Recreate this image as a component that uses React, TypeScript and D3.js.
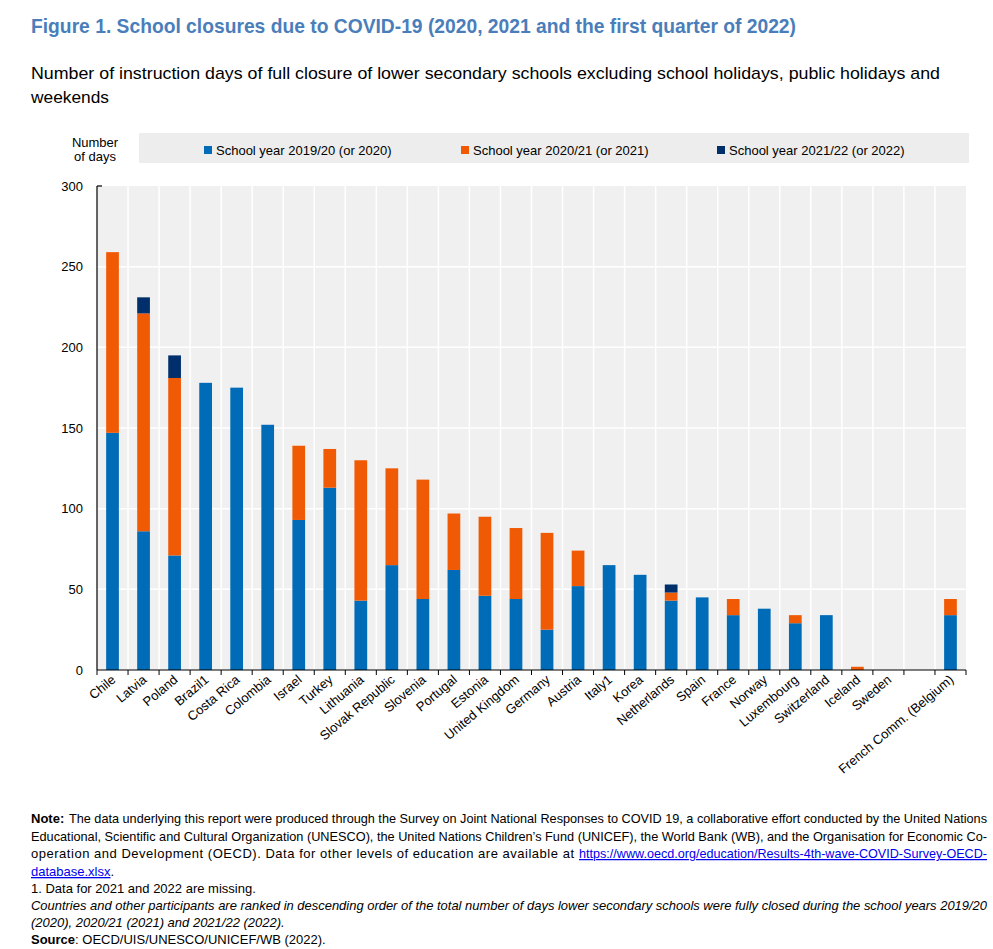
import React from "react";
import * as d3 from "d3";

const W = 993;
const H = 949;

const categories = [
  "Chile", "Latvia", "Poland", "Brazil1", "Costa Rica", "Colombia", "Israel", "Turkey",
  "Lithuania", "Slovak Republic", "Slovenia", "Portugal", "Estonia", "United Kingdom",
  "Germany", "Austria", "Italy1", "Korea", "Netherlands", "Spain", "France", "Norway",
  "Luxembourg", "Switzerland", "Iceland", "Sweden", "", "French Comm. (Belgium)",
];
const days2020 = [147, 86, 71, 178, 175, 152, 93, 113, 43, 65, 44, 62, 46, 44, 25, 52, 65, 59, 43, 45, 34, 38, 29, 34, 0, 0, 0, 34];
const days2021 = [112, 135, 110, 0, 0, 0, 46, 24, 87, 60, 74, 35, 49, 44, 60, 22, 0, 0, 5, 0, 10, 0, 5, 0, 2, 0, 0, 10];
const days2022 = [0, 10, 14, 0, 0, 0, 0, 0, 0, 0, 0, 0, 0, 0, 0, 0, 0, 0, 5, 0, 0, 0, 0, 0, 0, 0, 0, 0];

const seriesKeys = ["y2020", "y2021", "y2022"];
const seriesLabels = ["School year 2019/20 (or 2020)", "School year 2020/21 (or 2021)", "School year 2021/22 (or 2022)"];
const seriesColors = ["#006BB6", "#F15A05", "#002F6C"];
const yTicks = [0, 50, 100, 150, 200, 250, 300];

const plot = { left: 97, right: 966, top: 186, bottom: 670 };
const sans = "'Liberation Sans', Arial, sans-serif";
const narrow = "'Liberation Sans Narrow', 'Arial Narrow', 'Liberation Sans', sans-serif";

export default function App() {
  const rows = categories.map((c, i) => ({
    name: c,
    y2020: days2020[i],
    y2021: days2021[i],
    y2022: days2022[i],
  }));

  const x = d3.scaleBand().domain(categories).range([plot.left, plot.right]).padding(0);
  const y = d3.scaleLinear().domain([0, 300]).range([plot.bottom, plot.top]);
  const stacked = d3.stack().keys(seriesKeys)(rows as any);
  const barW = x.bandwidth() * 0.41;

  const boundaries = d3.range(categories.length + 1).map((k) => plot.left + k * x.step());

  return (
    <svg width={W} height={H} style={{ position: "absolute", left: 0, top: 0 }}>
      {/* heading */}
      <text x={31} y={33} fontFamily={narrow} fontWeight="bold" fontSize={21} fill="#4A7EBB"
        textLength={765} lengthAdjust="spacingAndGlyphs">
        Figure 1. School closures due to COVID-19 (2020, 2021 and the first quarter of 2022)
      </text>
      <text x={31} y={79} fontFamily={narrow} fontSize={17} fill="#000"
        textLength={909} lengthAdjust="spacingAndGlyphs">
        Number of instruction days of full closure of lower secondary schools excluding school holidays, public holidays and
      </text>
      <text x={31} y={103} fontFamily={narrow} fontSize={17} fill="#000"
        textLength={78} lengthAdjust="spacingAndGlyphs">
        weekends
      </text>

      {/* axis title + legend */}
      <text x={95} y={147} textAnchor="middle" fontFamily={sans} fontSize={13}>Number</text>
      <text x={95} y={161} textAnchor="middle" fontFamily={sans} fontSize={13}>of days</text>
      <rect x={139} y={133} width={830} height={30} fill="#EDEDED" />
      {seriesLabels.map((label, i) => {
        const lx = [204, 461, 717][i];
        return (
          <g key={label}>
            <rect x={lx} y={146} width={8} height={8} fill={seriesColors[i]} />
            <text x={lx + 12} y={155} fontFamily={sans} fontSize={13} fill="#000">{label}</text>
          </g>
        );
      })}

      {/* plot background and grid */}
      <rect x={plot.left} y={plot.top} width={plot.right - plot.left} height={plot.bottom - plot.top} fill="#F0F0F0" />
      {yTicks.slice(1, -1).map((t) => (
        <line key={t} x1={plot.left} x2={plot.right} y1={y(t)} y2={y(t)} stroke="#fff" strokeWidth={1.5} />
      ))}
      {boundaries.slice(1, -1).map((bx, i) => (
        <line key={i} x1={bx} x2={bx} y1={plot.top} y2={plot.bottom} stroke="#fff" strokeWidth={1.5} />
      ))}

      {/* stacked bars */}
      {stacked.map((s, si) => (
        <g key={s.key} fill={seriesColors[si]}>
          {s.map((d, i) => {
            const h = y(d[0]) - y(d[1]);
            if (h <= 0) return null;
            const cx = (x(categories[i]) ?? 0) + x.bandwidth() / 2;
            return <rect key={i} x={cx - barW / 2} y={y(d[1])} width={barW} height={h} />;
          })}
        </g>
      ))}

      {/* axes */}
      <line x1={plot.left} x2={plot.left} y1={plot.top} y2={plot.bottom} stroke="#000" strokeWidth={1.2} />
      <line x1={plot.left} x2={plot.left + 5} y1={plot.top} y2={plot.top} stroke="#000" strokeWidth={1.2} />
      <line x1={plot.left} x2={plot.right} y1={plot.bottom} y2={plot.bottom} stroke="#000" strokeWidth={1.2} />
      {boundaries.map((bx, i) => (
        <line key={i} x1={bx} x2={bx} y1={plot.bottom} y2={plot.bottom + 5} stroke="#000" strokeWidth={1} />
      ))}
      {yTicks.map((t) => (
        <text key={t} x={83} y={y(t)} dy="0.35em" textAnchor="end" fontFamily={sans} fontSize={13}>{t}</text>
      ))}
      {categories.map((c, i) => {
        const cx = (x(c) ?? 0) + x.bandwidth() / 2 + 4;
        return (
          <text key={i} x={cx} y={681} textAnchor="end" fontFamily={sans} fontSize={13}
            transform={`rotate(-40, ${cx}, 681)`}>
            {c}
          </text>
        );
      })}

      {/* notes */}
      <g fontFamily={sans} fontSize={13} fill="#000">
        <text x={31} y={823} fontWeight="bold">Note:</text>
        <text x={69} y={823} fontSize={12.4} textLength={918} lengthAdjust="spacingAndGlyphs">The data underlying this report were produced through the Survey on Joint National Responses to COVID 19, a collaborative effort conducted by the United Nations</text>
        <text x={31} y={841} fontSize={12.4} textLength={956} lengthAdjust="spacingAndGlyphs">Educational, Scientific and Cultural Organization (UNESCO), the United Nations Children’s Fund (UNICEF), the World Bank (WB), and the Organisation for Economic Co-</text>
        <text x={31} y={858} textLength={543} lengthAdjust="spacing">operation and Development (OECD). Data for other levels of education are available at</text>
        <text x={579} y={858} fontSize={12.4} fill="#0000EE" textDecoration="underline" textLength={408} lengthAdjust="spacingAndGlyphs">https://www.oecd.org/education/Results-4th-wave-COVID-Survey-OECD-</text>
        <text x={31} y={876}>
          <tspan fill="#0000EE" textDecoration="underline">database.xlsx</tspan>
          <tspan>.</tspan>
        </text>
        <text x={31} y={893}>1. Data for 2021 and 2022 are missing.</text>
        <text x={31} y={910} fontSize={12.4} fontStyle="italic" textLength={956} lengthAdjust="spacingAndGlyphs">Countries and other participants are ranked in descending order of the total number of days lower secondary schools were fully closed during the school years 2019/20</text>
        <text x={31} y={927} fontStyle="italic">(2020), 2020/21 (2021) and 2021/22 (2022).</text>
        <text x={31} y={944}>
          <tspan fontWeight="bold">Source</tspan>
          <tspan>: OECD/UIS/UNESCO/UNICEF/WB (2022).</tspan>
        </text>
      </g>
    </svg>
  );
}
